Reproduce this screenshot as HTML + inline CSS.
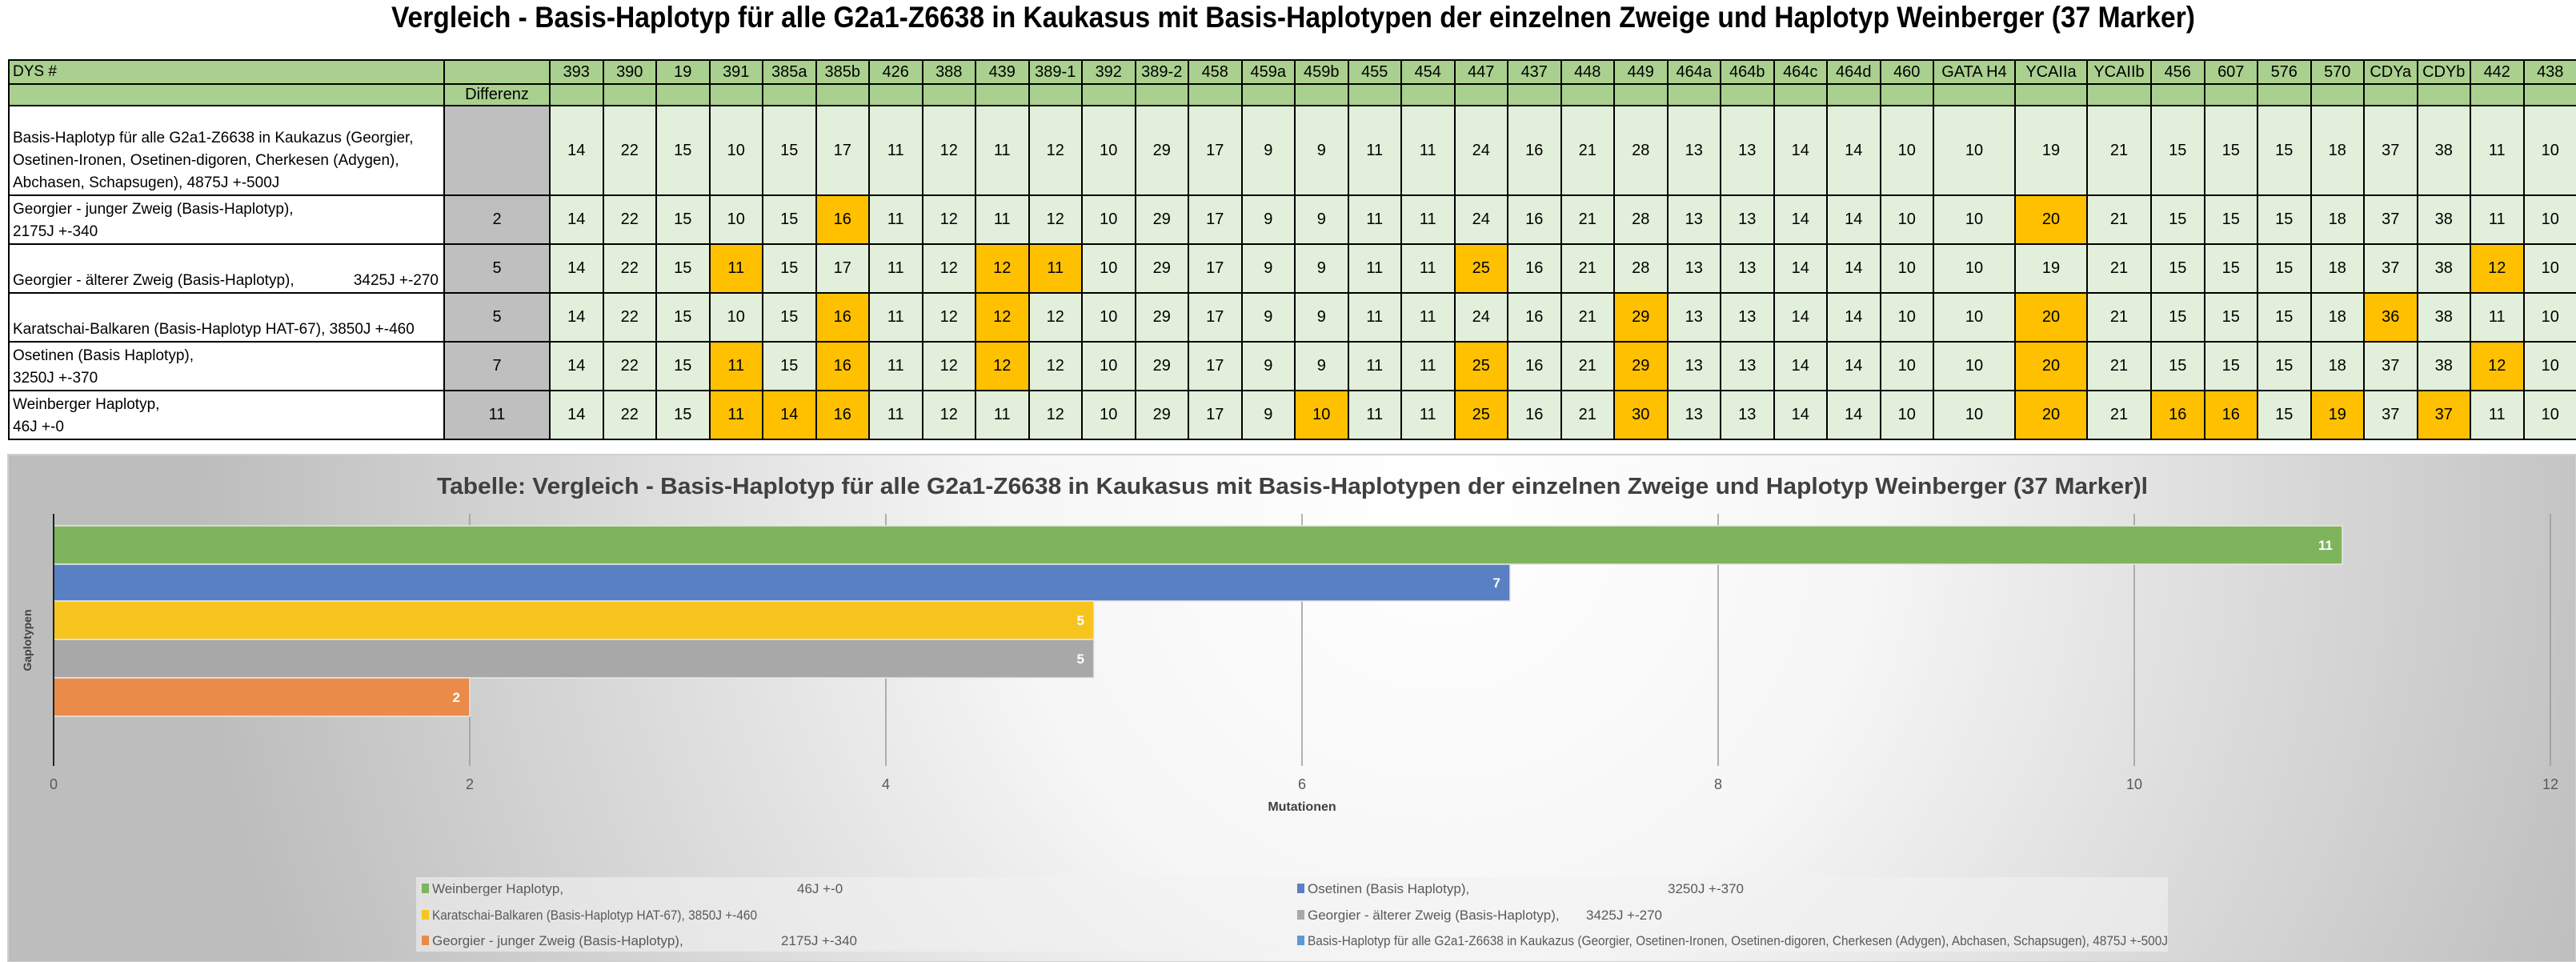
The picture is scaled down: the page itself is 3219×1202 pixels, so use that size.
<!DOCTYPE html>
<html><head><meta charset="utf-8">
<style>
html,body{margin:0;padding:0;background:#fff;}
#wrap{position:relative;width:3219px;height:1202px;overflow:hidden;font-family:"Liberation Sans Narrow","Liberation Sans",sans-serif;}
svg{position:absolute;left:0;top:0;}
table{position:absolute;left:10px;top:74px;width:3209px;table-layout:fixed;border-collapse:collapse;font-size:20px;color:#000;}
td{border:2px solid #000;padding:0;text-align:center;background:#e2efda;overflow:hidden;white-space:nowrap;}
tr.h td{background:#a9d08e;}
td.l{background:#fff;text-align:left;padding-left:4px;font-size:19px;line-height:28px;white-space:normal;vertical-align:bottom;}
td.d{background:#bfbfbf;}
td.o{background:#ffc000;}
tr.h td.l{background:#a9d08e;vertical-align:middle;}
</style></head><body><div id="wrap">
<svg width="3219" height="1202" viewBox="0 0 3219 1202">
<defs>
<radialGradient id="bg" gradientUnits="userSpaceOnUse" cx="1800" cy="640" r="1550">
<stop offset="0" stop-color="#ffffff"/><stop offset="0.35" stop-color="#f6f6f6"/><stop offset="1" stop-color="#bdbdbd"/>
</radialGradient>
</defs>
<text x="489" y="34" font-family="Liberation Sans Narrow, Liberation Sans, sans-serif" font-weight="bold" font-size="37" fill="#000" textLength="2254" lengthAdjust="spacingAndGlyphs">Vergleich - Basis-Haplotyp für alle G2a1-Z6638 in Kaukasus mit Basis-Haplotypen der einzelnen Zweige und Haplotyp Weinberger (37 Marker)</text>
<rect x="10" y="568" width="3209" height="634" fill="url(#bg)" stroke="#d0d0d0" stroke-width="2"/>
<text x="546" y="617" font-family="Liberation Sans Narrow, Liberation Sans, sans-serif" font-weight="bold" font-size="29" fill="#404040" textLength="2138" lengthAdjust="spacingAndGlyphs">Tabelle: Vergleich - Basis-Haplotyp für alle G2a1-Z6638 in Kaukasus mit Basis-Haplotypen der einzelnen Zweige und Haplotyp Weinberger (37 Marker)l</text>
<g stroke="#9a9a9a" stroke-width="1.5">
<line x1="587" y1="642" x2="587" y2="957"/><line x1="1107" y1="642" x2="1107" y2="957"/><line x1="1627" y1="642" x2="1627" y2="957"/><line x1="2147" y1="642" x2="2147" y2="957"/><line x1="2667" y1="642" x2="2667" y2="957"/><line x1="3187" y1="642" x2="3187" y2="957"/>
</g>
<g stroke="#e8e8e8" stroke-width="1.5">
<rect x="67" y="657" width="2860" height="48" fill="#7eb55c"/>
<rect x="67" y="705" width="1820" height="46" fill="#5a80c4"/>
<rect x="67" y="751" width="1300" height="48" fill="#f7c41f"/>
<rect x="67" y="799" width="1300" height="48" fill="#a8a8a8"/>
<rect x="67" y="847" width="520" height="48" fill="#ea8b4a"/>
</g>
<line x1="67" y1="642" x2="67" y2="957" stroke="#222" stroke-width="2"/>
<g font-family="Liberation Sans Narrow, Liberation Sans, sans-serif" font-weight="bold" font-size="17" fill="#fff" text-anchor="end">
<text x="2915" y="687">11</text><text x="1875" y="734">7</text><text x="1355" y="781">5</text><text x="1355" y="829">5</text><text x="575" y="877">2</text>
</g>
<g font-family="Liberation Sans Narrow, Liberation Sans, sans-serif" font-size="18" fill="#595959" text-anchor="middle">
<text x="67" y="986">0</text><text x="587" y="986">2</text><text x="1107" y="986">4</text><text x="1627" y="986">6</text><text x="2147" y="986">8</text><text x="2667" y="986">10</text><text x="3187" y="986">12</text>
</g>
<text x="1627" y="1013" font-family="Liberation Sans Narrow, Liberation Sans, sans-serif" font-weight="bold" font-size="16" fill="#404040" text-anchor="middle">Mutationen</text>
<text transform="translate(39,800) rotate(-90)" font-family="Liberation Sans, sans-serif" font-weight="bold" font-size="14" fill="#404040" text-anchor="middle">Gaplotypen</text>
<rect x="520" y="1096" width="2189" height="93" fill="#f2f2f2" opacity="0.6"/>
<g font-family="Liberation Sans Narrow, Liberation Sans, sans-serif" font-size="17" fill="#595959">
<rect x="527" y="1104" width="9" height="12" fill="#7eb55c"/><text x="540" y="1116">Weinberger Haplotyp,</text><text x="996" y="1116">46J +-0</text>
<rect x="527" y="1137" width="9" height="12" fill="#f7c41f"/><text x="540" y="1149" textLength="406" lengthAdjust="spacingAndGlyphs">Karatschai-Balkaren (Basis-Haplotyp HAT-67), 3850J +-460</text>
<rect x="527" y="1169" width="9" height="12" fill="#ea8b4a"/><text x="540" y="1181">Georgier - junger Zweig (Basis-Haplotyp),</text><text x="976" y="1181">2175J +-340</text>
<rect x="1621" y="1104" width="9" height="12" fill="#5a80c4"/><text x="1634" y="1116">Osetinen (Basis Haplotyp),</text><text x="2084" y="1116">3250J +-370</text>
<rect x="1621" y="1137" width="9" height="12" fill="#a8a8a8"/><text x="1634" y="1149">Georgier - älterer Zweig (Basis-Haplotyp),</text><text x="1982" y="1149">3425J +-270</text>
<rect x="1621" y="1169" width="9" height="12" fill="#5b9bd5"/><text x="1634" y="1181" textLength="1075" lengthAdjust="spacingAndGlyphs">Basis-Haplotyp für alle G2a1-Z6638 in Kaukazus (Georgier, Osetinen-Ironen, Osetinen-digoren, Cherkesen (Adygen), Abchasen, Schapsugen), 4875J +-500J</text>
</g>
</svg>
<table>
<colgroup><col style="width:544px"><col style="width:132px">
<col style="width:66.5px"><col style="width:66.5px"><col style="width:66.5px"><col style="width:66.5px"><col style="width:66.5px"><col style="width:66.5px"><col style="width:66.5px"><col style="width:66.5px"><col style="width:66.5px"><col style="width:66.5px"><col style="width:66.5px"><col style="width:66.5px"><col style="width:66.5px"><col style="width:66.5px"><col style="width:66.5px"><col style="width:66.5px"><col style="width:66.5px"><col style="width:66.5px"><col style="width:66.5px"><col style="width:66.5px"><col style="width:66.5px"><col style="width:66.5px"><col style="width:66.5px"><col style="width:66.5px"><col style="width:66.5px"><col style="width:66.5px">
<col style="width:102px"><col style="width:90px"><col style="width:80px">
<col style="width:66.5px"><col style="width:66.5px"><col style="width:66.5px"><col style="width:66.5px"><col style="width:66.5px"><col style="width:66.5px"><col style="width:66.5px"><col style="width:66.5px"></colgroup>
<tr class="h" style="height:29px"><td class="l">DYS #</td><td></td><td>393</td><td>390</td><td>19</td><td>391</td><td>385a</td><td>385b</td><td>426</td><td>388</td><td>439</td><td>389-1</td><td>392</td><td>389-2</td><td>458</td><td>459a</td><td>459b</td><td>455</td><td>454</td><td>447</td><td>437</td><td>448</td><td>449</td><td>464a</td><td>464b</td><td>464c</td><td>464d</td><td>460</td><td>GATA H4</td><td>YCAIIa</td><td>YCAIIb</td><td>456</td><td>607</td><td>576</td><td>570</td><td>CDYa</td><td>CDYb</td><td>442</td><td>438</td></tr>
<tr class="h" style="height:27px"><td class="l"></td><td>Differenz</td><td></td><td></td><td></td><td></td><td></td><td></td><td></td><td></td><td></td><td></td><td></td><td></td><td></td><td></td><td></td><td></td><td></td><td></td><td></td><td></td><td></td><td></td><td></td><td></td><td></td><td></td><td></td><td></td><td></td><td></td><td></td><td></td><td></td><td></td><td></td><td></td><td></td></tr>
<tr style="height:112px"><td class="l">Basis-Haplotyp für alle G2a1-Z6638 in Kaukazus (Georgier, Osetinen-Ironen, Osetinen-digoren, Cherkesen (Adygen), Abchasen, Schapsugen), 4875J +-500J</td><td class="d"></td><td>14</td><td>22</td><td>15</td><td>10</td><td>15</td><td>17</td><td>11</td><td>12</td><td>11</td><td>12</td><td>10</td><td>29</td><td>17</td><td>9</td><td>9</td><td>11</td><td>11</td><td>24</td><td>16</td><td>21</td><td>28</td><td>13</td><td>13</td><td>14</td><td>14</td><td>10</td><td>10</td><td>19</td><td>21</td><td>15</td><td>15</td><td>15</td><td>18</td><td>37</td><td>38</td><td>11</td><td>10</td></tr>
<tr style="height:61px"><td class="l">Georgier - junger Zweig (Basis-Haplotyp),<br>2175J +-340</td><td class="d">2</td><td>14</td><td>22</td><td>15</td><td>10</td><td>15</td><td class="o">16</td><td>11</td><td>12</td><td>11</td><td>12</td><td>10</td><td>29</td><td>17</td><td>9</td><td>9</td><td>11</td><td>11</td><td>24</td><td>16</td><td>21</td><td>28</td><td>13</td><td>13</td><td>14</td><td>14</td><td>10</td><td>10</td><td class="o">20</td><td>21</td><td>15</td><td>15</td><td>15</td><td>18</td><td>37</td><td>38</td><td>11</td><td>10</td></tr>
<tr style="height:61px"><td class="l">Georgier - älterer Zweig (Basis-Haplotyp),<span style="float:right;padding-right:6px">3425J +-270</span></td><td class="d">5</td><td>14</td><td>22</td><td>15</td><td class="o">11</td><td>15</td><td>17</td><td>11</td><td>12</td><td class="o">12</td><td class="o">11</td><td>10</td><td>29</td><td>17</td><td>9</td><td>9</td><td>11</td><td>11</td><td class="o">25</td><td>16</td><td>21</td><td>28</td><td>13</td><td>13</td><td>14</td><td>14</td><td>10</td><td>10</td><td>19</td><td>21</td><td>15</td><td>15</td><td>15</td><td>18</td><td>37</td><td>38</td><td class="o">12</td><td>10</td></tr>
<tr style="height:61px"><td class="l">Karatschai-Balkaren (Basis-Haplotyp HAT-67), 3850J +-460</td><td class="d">5</td><td>14</td><td>22</td><td>15</td><td>10</td><td>15</td><td class="o">16</td><td>11</td><td>12</td><td class="o">12</td><td>12</td><td>10</td><td>29</td><td>17</td><td>9</td><td>9</td><td>11</td><td>11</td><td>24</td><td>16</td><td>21</td><td class="o">29</td><td>13</td><td>13</td><td>14</td><td>14</td><td>10</td><td>10</td><td class="o">20</td><td>21</td><td>15</td><td>15</td><td>15</td><td>18</td><td class="o">36</td><td>38</td><td>11</td><td>10</td></tr>
<tr style="height:61px"><td class="l">Osetinen (Basis Haplotyp),<br>3250J +-370</td><td class="d">7</td><td>14</td><td>22</td><td>15</td><td class="o">11</td><td>15</td><td class="o">16</td><td>11</td><td>12</td><td class="o">12</td><td>12</td><td>10</td><td>29</td><td>17</td><td>9</td><td>9</td><td>11</td><td>11</td><td class="o">25</td><td>16</td><td>21</td><td class="o">29</td><td>13</td><td>13</td><td>14</td><td>14</td><td>10</td><td>10</td><td class="o">20</td><td>21</td><td>15</td><td>15</td><td>15</td><td>18</td><td>37</td><td>38</td><td class="o">12</td><td>10</td></tr>
<tr style="height:61px"><td class="l">Weinberger Haplotyp,<br>46J +-0</td><td class="d">11</td><td>14</td><td>22</td><td>15</td><td class="o">11</td><td class="o">14</td><td class="o">16</td><td>11</td><td>12</td><td>11</td><td>12</td><td>10</td><td>29</td><td>17</td><td>9</td><td class="o">10</td><td>11</td><td>11</td><td class="o">25</td><td>16</td><td>21</td><td class="o">30</td><td>13</td><td>13</td><td>14</td><td>14</td><td>10</td><td>10</td><td class="o">20</td><td>21</td><td class="o">16</td><td class="o">16</td><td>15</td><td class="o">19</td><td>37</td><td class="o">37</td><td>11</td><td>10</td></tr>
</table>
</div></body></html>
